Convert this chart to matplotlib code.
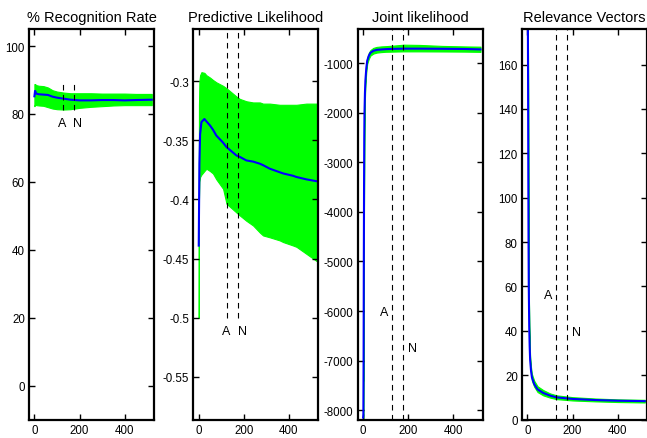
import numpy as np
import matplotlib
matplotlib.use('Agg')
import matplotlib.pyplot as plt
from matplotlib.ticker import FormatStrFormatter

plt.rcParams['font.family'] = ['Liberation Sans', 'DejaVu Sans']

# iteration marks for the two dashed lines
x_a, x_n = 127, 176

# % recognition rate
rec_x = [0, 3, 8, 20, 40, 60, 80, 100, 130, 160, 200, 250, 300, 350, 400, 450, 520]
rec_mean = [85.2, 86.8, 86.0, 85.8, 85.7, 85.6, 85.1, 84.8, 84.5, 84.2, 84.0, 84.0, 84.1, 84.1, 84.0, 84.1, 84.2]
rec_hi = [88.8, 88.8, 88.5, 88.3, 88.2, 87.8, 87.0, 86.6, 86.3, 86.1, 86.1, 86.1, 86.0, 86.0, 86.0, 85.9, 85.9]
rec_lo = [82.3, 82.8, 82.6, 82.5, 82.4, 82.0, 81.6, 81.4, 81.3, 81.4, 81.8, 82.1, 82.3, 82.5, 82.6, 82.6, 82.6]

# predictive likelihood
pl_x = [0, 1, 3, 6, 12, 25, 34, 50, 63, 78, 108, 123, 167, 182, 211, 241, 271, 285, 315, 359, 374, 418, 433, 477, 529]
pl_mean = [-0.439, -0.415, -0.37, -0.345, -0.3346, -0.332, -0.334, -0.3375, -0.341, -0.346, -0.352, -0.3557, -0.3628,
           -0.364, -0.367, -0.368, -0.3698, -0.371, -0.374, -0.377, -0.378, -0.380, -0.381, -0.383, -0.3848]
pl_hi = [-0.439, -0.32, -0.30, -0.295, -0.2924, -0.293, -0.295, -0.297, -0.299, -0.301, -0.304, -0.306, -0.313,
         -0.315, -0.317, -0.318, -0.318, -0.319, -0.319, -0.320, -0.320, -0.320, -0.320, -0.319, -0.319]
pl_lo = [-0.500, -0.40, -0.385, -0.381, -0.379, -0.376, -0.374, -0.376, -0.378, -0.383, -0.391, -0.4036, -0.411,
         -0.4135, -0.418, -0.422, -0.428, -0.4304, -0.432, -0.4346, -0.436, -0.4389, -0.440, -0.4459, -0.4529]

# joint likelihood
jl_x = [0, 1, 2, 3, 4, 5, 6, 8, 10, 14, 18, 25, 32, 45, 60, 80, 100, 130, 180, 250, 350, 450, 520]
jl_mean = [-8150, -8100, -7000, -5000, -3500, -2500, -2000, -1600, -1350, -1100, -950, -850, -790, -750, -730,
           -722, -715, -710, -705, -705, -708, -712, -720]
jl_hi = [-7400, -7400, -6800, -4800, -3300, -2350, -1880, -1500, -1270, -1030, -890, -790, -735, -690, -670,
         -660, -655, -645, -625, -630, -650, -660, -665]
jl_lo = [-8180, -8180, -7200, -5200, -3700, -2650, -2120, -1700, -1430, -1170, -1010, -910, -845, -805, -785,
         -775, -768, -765, -760, -760, -762, -765, -770]

# relevance vectors
rv_x = [0, 2, 3, 4, 5, 6, 8, 10, 12, 16, 20, 30, 45, 70, 100, 130, 200, 300, 400, 520]
rv_mean = [200, 180, 150, 110, 80, 60, 42, 33, 27, 22, 19, 16, 13.6, 12.0, 10.8, 10.0, 9.3, 8.8, 8.5, 8.3]
rv_hi = [200, 181, 151, 111, 81, 61, 43, 34, 28.5, 23.5, 20.5, 17.5, 15.0, 13.3, 11.8, 10.9, 10.1, 9.5, 9.1, 8.9]
rv_lo = [200, 179, 149, 109, 79, 59, 41, 32, 25.5, 20.5, 17.5, 14.8, 12.4, 10.9, 9.9, 9.2, 8.6, 8.2, 7.9, 7.7]

panels = [
    ('% Recognition Rate', rec_x, rec_mean, rec_hi, rec_lo, (-10, 105), np.arange(0, 101, 20),
     (81.2, 89.0), (125, 77.4), (190, 77.4), '%g'),
    ('Predictive Likelihood', pl_x, pl_mean, pl_hi, pl_lo, (-0.586, -0.256), np.arange(-0.55, -0.29, 0.05),
     (-0.5, -0.256), (123, -0.5115), (192, -0.5115), '%g'),
    ('Joint likelihood', jl_x, jl_mean, jl_hi, jl_lo, (-8190, -310), np.arange(-8000, -999, 1000),
     (-8190, -310), (94, -6023), (219, -6750), '%d'),
    ('Relevance Vectors', rv_x, rv_mean, rv_hi, rv_lo, (0, 176), np.arange(0, 161, 20),
     (0, 176), (94, 56), (219, 39.5), '%d'),
]

fig = plt.figure(figsize=(6.47, 4.39), dpi=100)
lefts = [0.0448, 0.2988, 0.5529, 0.8068]

for left, (title, x, m, hi, lo, ylim, yticks, vspan, pos_a, pos_n, fmt) in zip(lefts, panels):
    ax = fig.add_axes([left, 0.042, 0.1932, 0.8895])
    ax.fill_between(x, lo, hi, color=(0, 1, 0), lw=0.8, edgecolor=(0, 1, 0))
    ax.plot(x, m, color=(0, 0, 1), lw=1.5)
    ax.vlines([x_a, x_n], vspan[0], vspan[1], colors='k', linestyles=(0, (5, 4)), lw=0.8)
    ax.text(pos_a[0], pos_a[1], 'A', ha='center', va='center', fontsize=9)
    ax.text(pos_n[0], pos_n[1], 'N', ha='center', va='center', fontsize=9)
    ax.set_xlim(-24, 530)
    ax.set_ylim(*ylim)
    ax.set_xticks([0, 200, 400])
    ax.set_yticks(yticks)
    ax.yaxis.set_major_formatter(FormatStrFormatter(fmt))
    ax.tick_params(direction='in', top=True, right=True, length=4, width=1, labelsize=8.3, pad=3)
    for s in ax.spines.values():
        s.set_linewidth(1.6)
    ax.set_title(title, fontsize=10.5, pad=6)

fig.savefig('out.png', dpi=100)
